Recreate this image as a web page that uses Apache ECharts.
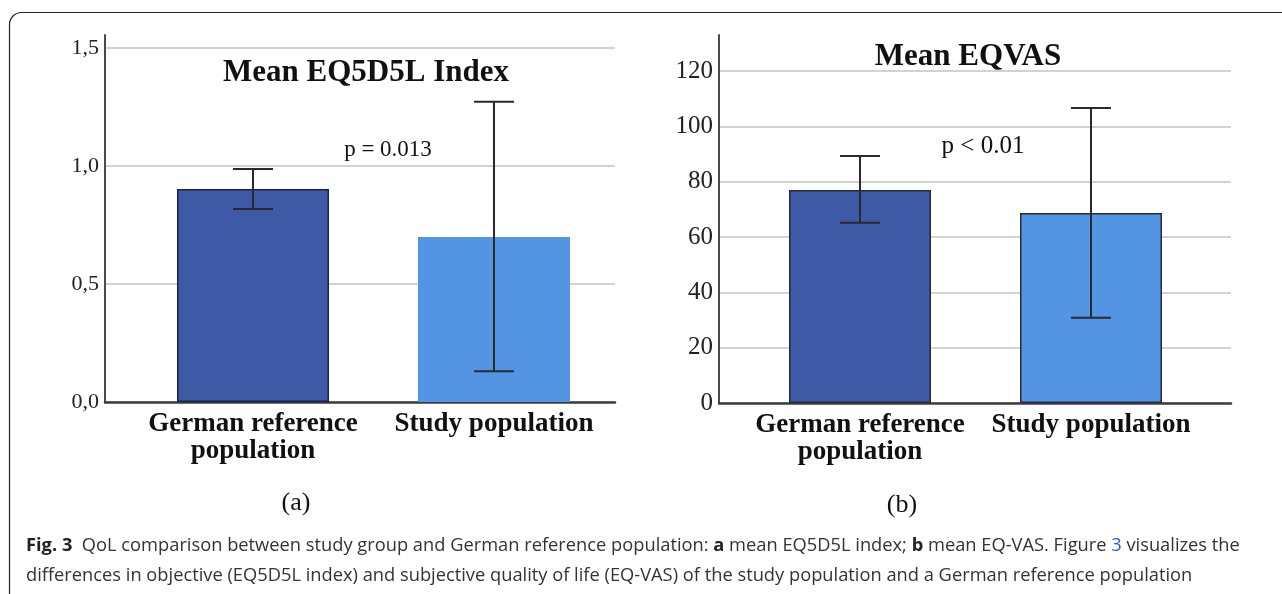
<!DOCTYPE html>
<html>
<head>
<meta charset="utf-8">
<script src="https://cdn.jsdelivr.net/npm/echarts@6/dist/echarts.min.js"></script>
<style>
  html, body { margin: 0; padding: 0; background: #fff; }
  #main { width: 1282px; height: 594px; }
</style>
</head>
<body>
<div id="main"></div>
<script>
// data
const categories = ['German reference\npopulation', 'Study population'];

// (a) mean EQ5D5L index, with error bar ends
const indexMean = [0.903, 0.699];
const indexLow = [0.818, 0.13];
const indexHigh = [0.987, 1.272];
const indexTicks = [0, 0.5, 1.0, 1.5];

// (b) mean EQ-VAS, with error bar ends
const vasMean = [77.0, 68.7];
const vasLow = [65.1, 30.8];
const vasHigh = [89.3, 106.6];
const vasTicks = [0, 20, 40, 60, 80, 100, 120];

const colors = ['#3e5aa7', '#5394e3'];
const serif = 'Liberation Serif';

const chart = echarts.init(document.getElementById('main'));

// error bars: vertical line + caps
function errorBars(capHalf) {
    return function (params, api) {
        const x = api.value(0);
        const top = api.coord([x, api.value(2)]);
        const bot = api.coord([x, api.value(1)]);
        const st = { stroke: '#2a2a2a', lineWidth: 2 };
        return {
            type: 'group',
            children: [
                { type: 'line', shape: { x1: top[0], y1: top[1], x2: bot[0], y2: bot[1] }, style: st },
                { type: 'line', shape: { x1: top[0] - capHalf, y1: top[1], x2: top[0] + capHalf, y2: top[1] }, style: st },
                { type: 'line', shape: { x1: bot[0] - capHalf, y1: bot[1], x2: bot[0] + capHalf, y2: bot[1] }, style: st }
            ]
        };
    };
}

function bgY(max, interval, fontSize, fmt) {
    return {
        type: 'value', min: 0, max: max, interval: interval,
        axisLine: { show: true, lineStyle: { color: '#4a4a4a', width: 2 } },
        axisTick: { show: false },
        axisLabel: {
            color: '#222', fontFamily: serif, fontSize: fontSize, margin: 6,
            showMaxLabel: false, formatter: fmt
        },
        splitLine: { show: true, showMaxLine: false, lineStyle: { color: '#d2d2d2', width: 2 } }
    };
}

function bgX() {
    return {
        type: 'value', min: 0, max: 1,
        axisLine: { show: true, lineStyle: { color: '#3c3c3c', width: 2.5 } },
        axisTick: { show: false }, axisLabel: { show: false }, splitLine: { show: false }
    };
}

function catX() {
    return {
        type: 'category', data: categories,
        axisLine: { show: false }, axisTick: { show: false },
        axisLabel: {
            color: '#111', fontFamily: serif, fontWeight: 'bold', fontSize: 27,
            lineHeight: 27, margin: 9, interval: 0
        }
    };
}

const option = {
    animation: false,
    backgroundColor: '#fff',
    grid: [
        { left: 105, right: 667, top: 35, bottom: 192, outerBoundsMode: 'none' },
        { left: 132.5, right: 667.5, top: 35, bottom: 192, outerBoundsMode: 'none' },
        { left: 719, right: 51, top: 35, bottom: 191, outerBoundsMode: 'none' },
        { left: 744.5, right: 75.5, top: 35, bottom: 191, outerBoundsMode: 'none' }
    ],
    xAxis: [
        Object.assign(bgX(), { gridIndex: 0 }),
        Object.assign(catX(), { gridIndex: 1 }),
        Object.assign(bgX(), { gridIndex: 2 }),
        Object.assign(catX(), { gridIndex: 3 })
    ],
    yAxis: [
        Object.assign(bgY(1.555, 0.5, 22, v => indexTicks.indexOf(v) < 0 ? '' : v.toFixed(1).replace('.', ',')), { gridIndex: 0 }),
        { gridIndex: 1, type: 'value', min: 0, max: 1.555, show: false },
        Object.assign(bgY(133, 20, 25, v => vasTicks.indexOf(v) < 0 ? '' : String(v)), { gridIndex: 2 }),
        { gridIndex: 3, type: 'value', min: 0, max: 133, show: false }
    ],
    title: [
        {
            text: 'Mean EQ5D5L Index', left: 366, top: 57, textAlign: 'center', padding: 0,
            textStyle: { fontFamily: serif, fontWeight: 'bold', fontSize: 31, color: '#111' }
        },
        {
            text: 'Mean EQVAS', left: 968, top: 41, textAlign: 'center', padding: 0,
            textStyle: { fontFamily: serif, fontWeight: 'bold', fontSize: 31, color: '#111' }
        }
    ],
    series: [
        {
            type: 'bar', xAxisIndex: 1, yAxisIndex: 1, barWidth: 152,
            data: indexMean.map((v, i) => ({
                value: v,
                itemStyle: i === 0
                    ? { color: colors[0], borderColor: '#1c2240', borderWidth: 1.5 }
                    : { color: colors[1], borderWidth: 0 }
            }))
        },
        {
            type: 'custom', xAxisIndex: 1, yAxisIndex: 1, z: 5,
            renderItem: errorBars(20),
            data: indexMean.map((v, i) => [i, indexLow[i], indexHigh[i]])
        },
        {
            type: 'bar', xAxisIndex: 3, yAxisIndex: 3, barWidth: 142,
            data: vasMean.map((v, i) => ({
                value: v,
                itemStyle: { color: colors[i], borderColor: '#262b38', borderWidth: 1.5 }
            }))
        },
        {
            type: 'custom', xAxisIndex: 3, yAxisIndex: 3, z: 5,
            renderItem: errorBars(20),
            data: vasMean.map((v, i) => [i, vasLow[i], vasHigh[i]])
        }
    ],
    graphic: [
        {
            type: 'rect', silent: true,
            shape: { x: 9.5, y: 12.5, width: 1300, height: 620, r: 12 },
            style: { fill: 'none', stroke: '#222', lineWidth: 1.2 }
        },
        {
            type: 'text', x: 388, y: 150,
            style: { text: 'p = 0.013', font: '23px "Liberation Serif"', fill: '#111', textAlign: 'center', textVerticalAlign: 'middle' }
        },
        {
            type: 'text', x: 983, y: 146,
            style: { text: 'p < 0.01', font: '25px "Liberation Serif"', fill: '#111', textAlign: 'center', textVerticalAlign: 'middle' }
        },
        {
            type: 'text', x: 296, y: 503,
            style: { text: '(a)', font: '26px "Liberation Serif"', fill: '#111', textAlign: 'center', textVerticalAlign: 'middle' }
        },
        {
            type: 'text', x: 902, y: 505,
            style: { text: '(b)', font: '26px "Liberation Serif"', fill: '#111', textAlign: 'center', textVerticalAlign: 'middle' }
        },
        {
            type: 'text', x: 26, y: 546,
            style: {
                text: '{b|Fig. 3}  QoL comparison between study group and German reference population: {b|a} mean EQ5D5L index; {b|b} mean EQ-VAS. Figure {l|3} visualizes the',
                font: '18.3px "Open Sans"', fill: '#333', textVerticalAlign: 'middle',
                rich: {
                    b: { fontFamily: 'Open Sans', fontSize: 18.3, fontWeight: 'bold', fill: '#222' },
                    l: { fontFamily: 'Open Sans', fontSize: 18.3, fill: '#3356d8' }
                }
            }
        },
        {
            type: 'text', x: 26, y: 576,
            style: {
                text: 'differences in objective (EQ5D5L index) and subjective quality of life (EQ-VAS) of the study population and a German reference population',
                font: '18.3px "Open Sans"', fill: '#333', textVerticalAlign: 'middle'
            }
        }
    ]
};

chart.setOption(option);
</script>
</body>
</html>
